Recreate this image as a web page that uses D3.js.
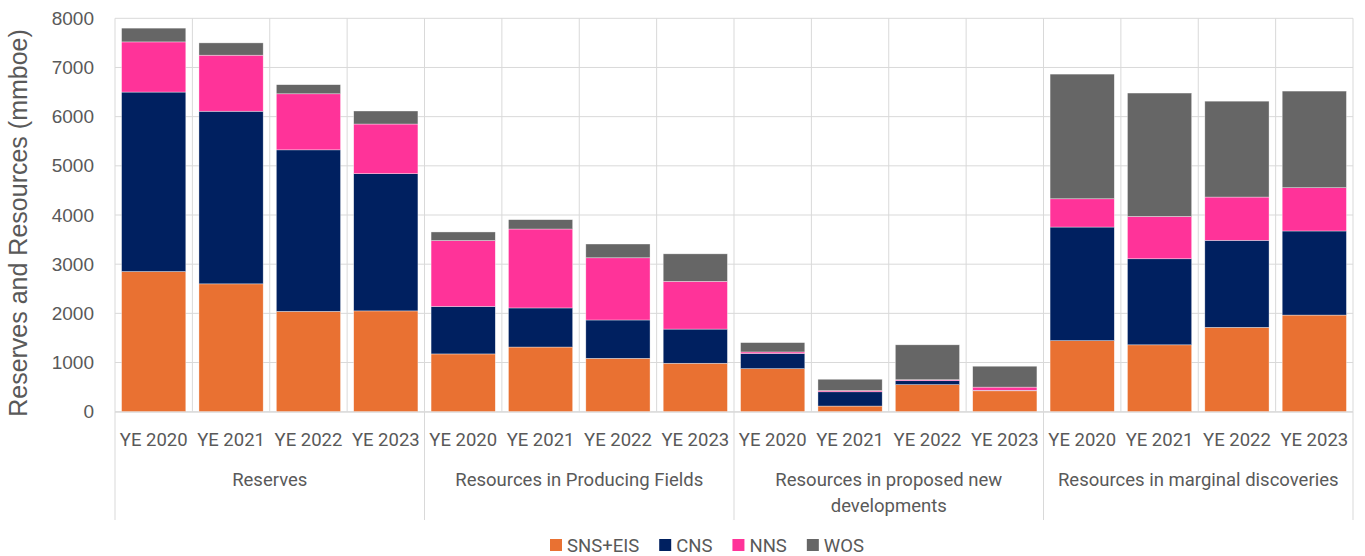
<!DOCTYPE html>
<html>
<head>
<meta charset="utf-8">
<script src="https://cdn.jsdelivr.net/npm/d3@7"></script>
<style>
  html, body { margin: 0; padding: 0; background: #ffffff; }
  svg { display: block; }
  .narrow { font-family: Roboto, "Liberation Sans", sans-serif; }
</style>
</head>
<body>
<svg id="chart" width="1365" height="556"></svg>
<script>
// ---- data ----
const groups = ["Reserves", "Resources in Producing Fields", "Resources in proposed new developments", "Resources in marginal discoveries"];
const years = ["YE 2020", "YE 2021", "YE 2022", "YE 2023"];
const seriesNames = ["SNS+EIS", "CNS", "NNS", "WOS"];
const seriesColors = ["#E97132", "#002060", "#FF3399", "#666666"];
const snsEis = [2850, 2600, 2040, 2050, 1175, 1315, 1085, 985, 875, 115, 550, 425, 1445, 1360, 1715, 1965];
const cns    = [3650, 3510, 3285, 2790, 965, 795, 780, 695, 310, 290, 80, 10, 2310, 1750, 1770, 1710];
const nns    = [1020, 1140, 1140, 1010, 1340, 1605, 1265, 970, 30, 25, 20, 65, 575, 860, 880, 880];
const wos    = [280, 250, 185, 265, 175, 190, 280, 560, 190, 230, 710, 425, 2535, 2510, 1950, 1965];
const yTicks = [0, 1000, 2000, 3000, 4000, 5000, 6000, 7000, 8000];
const yTitle = "Reserves and Resources (mmboe)";

// ---- build table ----
const seriesValues = [snsEis, cns, nns, wos];
const rows = [];
groups.forEach((g, gi) => years.forEach((yr, yi) => {
  const idx = gi * years.length + yi;
  const row = { id: idx, group: g, year: yr };
  seriesNames.forEach((s, si) => row[s] = seriesValues[si][idx]);
  rows.push(row);
}));

const svg = d3.select("#chart");
const pLeft = 115, pRight = 1353, pTop = 18.3, pBottom = 411.7;
const textColor = "#595959", gridColor = "#D9D9D9";
const narrowSize = "18.5px";

const x = d3.scaleBand().domain(rows.map(d => d.id)).range([pLeft, pRight]).paddingInner(0.17).paddingOuter(0.085);
const y = d3.scaleLinear().domain([0, 8000]).range([pBottom, pTop]);
const color = d3.scaleOrdinal().domain(seriesNames).range(seriesColors);
const step = x.step();

// horizontal gridlines
svg.append("g").selectAll("line").data(yTicks).join("line")
  .attr("x1", pLeft).attr("x2", pRight)
  .attr("y1", d => y(d)).attr("y2", d => y(d))
  .attr("stroke", gridColor).attr("stroke-width", 1);

// vertical gridlines at each band edge
const edges = d3.range(rows.length + 1).map(i => pLeft + i * step);
svg.append("g").selectAll("line").data(edges).join("line")
  .attr("x1", d => d).attr("x2", d => d)
  .attr("y1", pTop).attr("y2", pBottom)
  .attr("stroke", gridColor).attr("stroke-width", 1);

// group separators below axis
const groupEdges = d3.range(groups.length + 1).map(i => pLeft + i * years.length * step);
svg.append("g").selectAll("line").data(groupEdges).join("line")
  .attr("x1", d => d).attr("x2", d => d)
  .attr("y1", pBottom).attr("y2", 520)
  .attr("stroke", gridColor).attr("stroke-width", 1);

// stacked bars
const stack = d3.stack().keys(seriesNames);
const stacked = stack(rows);
svg.append("g").selectAll("g").data(stacked).join("g")
  .attr("fill", d => color(d.key))
  .selectAll("rect").data(d => d).join("rect")
  .attr("x", d => x(d.data.id))
  .attr("width", x.bandwidth())
  .attr("y", d => y(d[1]))
  .attr("height", d => y(d[0]) - y(d[1]))
  .attr("stroke", "#ffffff").attr("stroke-opacity", 0.6).attr("stroke-width", 0.6);

// y axis labels
const yAxis = d3.axisLeft(y).tickValues(yTicks).tickSize(0).tickPadding(21).tickFormat(d3.format("d"));
const yg = svg.append("g").attr("transform", `translate(${pLeft},0)`).call(yAxis);
yg.select(".domain").remove();
yg.selectAll("text").attr("fill", textColor)
  .style("font-family", "'Liberation Sans', Arial, sans-serif").style("font-size", "19px");

// y title
svg.append("text")
  .attr("transform", `translate(26.5,${(pTop + pBottom) / 2 + 8}) rotate(-90)`)
  .attr("text-anchor", "middle")
  .attr("fill", textColor)
  .style("font-family", "'Liberation Sans', Arial, sans-serif").style("font-size", "25px")
  .text(yTitle);

// x category (year) labels
const xAxis = d3.axisBottom(x).tickSize(0).tickPadding(0).tickFormat(i => rows[i].year);
const xg = svg.append("g").attr("transform", `translate(0,${pBottom})`).call(xAxis);
xg.select(".domain").attr("stroke", gridColor).attr("d", `M${pLeft},0.5H${pRight}`);
xg.selectAll("text").attr("class", "narrow").attr("fill", textColor)
  .attr("dy", null).attr("y", 34.5).style("font-size", narrowSize);

// group labels with wrapping
const groupCenter = g => pLeft + (groups.indexOf(g) + 0.5) * years.length * step;
svg.append("g").selectAll("text").data(groups).join("text")
  .attr("class", "narrow")
  .attr("x", d => groupCenter(d)).attr("y", 486)
  .attr("text-anchor", "middle").attr("fill", textColor).style("font-size", narrowSize)
  .each(function (d) {
    const el = d3.select(this);
    const words = d.split(" ");
    const maxW = 305;
    let line = [];
    let tspan = el.append("tspan").attr("x", groupCenter(d)).attr("dy", 0);
    words.forEach(w => {
      line.push(w);
      tspan.text(line.join(" "));
      if (tspan.node().getComputedTextLength() > maxW && line.length > 1) {
        line.pop();
        tspan.text(line.join(" "));
        line = [w];
        tspan = el.append("tspan").attr("x", groupCenter(d)).attr("dy", 26).text(w);
      }
    });
  });

// legend
const legend = svg.append("g");
let lx = 0;
seriesNames.forEach((s) => {
  const g = legend.append("g").attr("transform", `translate(${lx},0)`);
  g.append("rect").attr("x", 0).attr("y", -12.5).attr("width", 12).attr("height", 12).attr("fill", color(s));
  const t = g.append("text").attr("class", "narrow").attr("x", 17).attr("y", 0)
    .attr("fill", textColor).style("font-size", narrowSize).text(s);
  const w = t.node().getComputedTextLength();
  lx += 17 + w + 20;
});
legend.attr("transform", `translate(550,551.5)`);
</script>
</body>
</html>
